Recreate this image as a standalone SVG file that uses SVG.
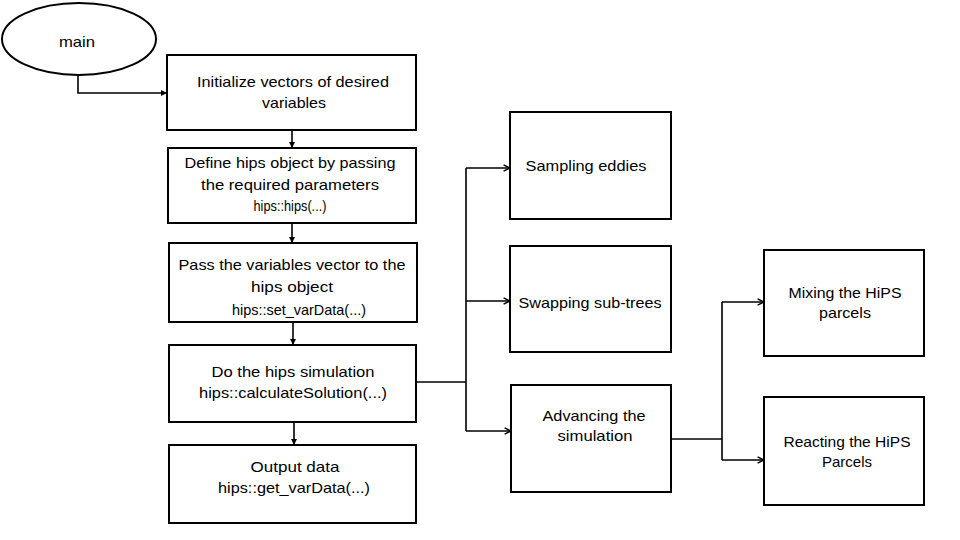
<svg xmlns="http://www.w3.org/2000/svg" width="960" height="540" viewBox="0 0 960 540">
<style>
.box{fill:#fff;stroke:#000;stroke-width:2}
.t{font-family:"Liberation Sans",Arial,sans-serif;font-size:14.5px;fill:#000;text-anchor:middle}
.c{fill:none;stroke:#000;stroke-width:1.6}
</style>
<defs>
<marker id="ad" viewBox="0 0 10 10" refX="10" refY="5" markerWidth="6" markerHeight="6" orient="auto" markerUnits="userSpaceOnUse">
<path d="M0,0 L10,5 L0,10 z" fill="#000"/>
</marker>
<marker id="ao" viewBox="0 0 10 10" refX="9" refY="5" markerWidth="8" markerHeight="8" orient="auto" markerUnits="userSpaceOnUse">
<path d="M1,1 L9,5 L1,9" fill="none" stroke="#000" stroke-width="1.8"/>
</marker>
</defs>
<rect width="960" height="540" fill="#fff"/>
<g id="connectors">
<path class="c" d="M78,75 V93 H167" marker-end="url(#ad)"/>
<path class="c" d="M292,130 V148" marker-end="url(#ad)"/>
<path class="c" d="M292,223 V243" marker-end="url(#ad)"/>
<path class="c" d="M293,322 V345" marker-end="url(#ad)"/>
<path class="c" d="M294,422 V445" marker-end="url(#ad)"/>
<path class="c" d="M416,382 H466"/>
<path class="c" d="M466,168 V431"/>
<path class="c" d="M466,168 H510" marker-end="url(#ao)"/>
<path class="c" d="M466,301 H510" marker-end="url(#ao)"/>
<path class="c" d="M466,431 H511" marker-end="url(#ao)"/>
<path class="c" d="M671,439 H722"/>
<path class="c" d="M722,302 V460"/>
<path class="c" d="M722,302 H764" marker-end="url(#ao)"/>
<path class="c" d="M722,460 H764" marker-end="url(#ao)"/>
</g>
<g id="main">
<ellipse cx="79" cy="39" rx="77" ry="36" class="box"/>
<text class="t" x="77" y="47" textLength="36" lengthAdjust="spacingAndGlyphs">main</text>
</g>
<g id="init">
<rect class="box" x="167" y="55" width="249" height="75"/>
<text class="t" x="293" y="87" textLength="192" lengthAdjust="spacingAndGlyphs">Initialize vectors of desired</text>
<text class="t" x="294" y="108" textLength="64" lengthAdjust="spacingAndGlyphs">variables</text>
</g>
<g id="define">
<rect class="box" x="168" y="148" width="248" height="75"/>
<text class="t" x="290" y="168" textLength="211" lengthAdjust="spacingAndGlyphs">Define hips object by passing</text>
<text class="t" x="290" y="190" textLength="178" lengthAdjust="spacingAndGlyphs">the required parameters</text>
<text class="t" x="290" y="211" textLength="73" lengthAdjust="spacingAndGlyphs">hips::hips(...)</text>
</g>
<g id="pass">
<rect class="box" x="169" y="243" width="248" height="79"/>
<text class="t" x="292" y="270" textLength="227" lengthAdjust="spacingAndGlyphs">Pass the variables vector to the</text>
<text class="t" x="292" y="292" textLength="82" lengthAdjust="spacingAndGlyphs">hips object</text>
<text class="t" x="299" y="315" textLength="134" lengthAdjust="spacingAndGlyphs">hips::set_varData(...)</text>
</g>
<g id="simulate">
<rect class="box" x="169" y="345" width="247" height="77"/>
<text class="t" x="293" y="377" textLength="163" lengthAdjust="spacingAndGlyphs">Do the hips simulation</text>
<text class="t" x="293" y="398" textLength="188" lengthAdjust="spacingAndGlyphs">hips::calculateSolution(...)</text>
</g>
<g id="output">
<rect class="box" x="169" y="445" width="247" height="78"/>
<text class="t" x="295" y="472" textLength="89" lengthAdjust="spacingAndGlyphs">Output data</text>
<text class="t" x="294" y="493" textLength="152" lengthAdjust="spacingAndGlyphs">hips::get_varData(...)</text>
</g>
<g id="sampling">
<rect class="box" x="510" y="112" width="161" height="107"/>
<text class="t" x="586" y="171" textLength="121" lengthAdjust="spacingAndGlyphs">Sampling eddies</text>
</g>
<g id="swapping">
<rect class="box" x="510" y="246" width="161" height="106"/>
<text class="t" x="590" y="308" textLength="143" lengthAdjust="spacingAndGlyphs">Swapping sub-trees</text>
</g>
<g id="advancing">
<rect class="box" x="511" y="385" width="160" height="107"/>
<text class="t" x="594" y="421" textLength="103" lengthAdjust="spacingAndGlyphs">Advancing the</text>
<text class="t" x="595" y="441" textLength="75" lengthAdjust="spacingAndGlyphs">simulation</text>
</g>
<g id="mixing">
<rect class="box" x="764" y="250" width="160" height="106"/>
<text class="t" x="845" y="298" textLength="113" lengthAdjust="spacingAndGlyphs">Mixing the HiPS</text>
<text class="t" x="845" y="318" textLength="52" lengthAdjust="spacingAndGlyphs">parcels</text>
</g>
<g id="reacting">
<rect class="box" x="764" y="397" width="160" height="108"/>
<text class="t" x="847" y="447" textLength="127" lengthAdjust="spacingAndGlyphs">Reacting the HiPS</text>
<text class="t" x="847" y="467" textLength="50" lengthAdjust="spacingAndGlyphs">Parcels</text>
</g>
</svg>
